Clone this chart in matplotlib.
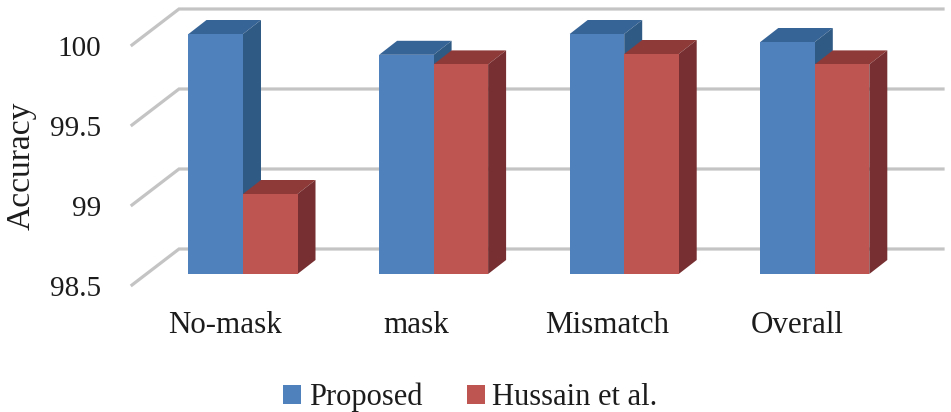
#!/usr/bin/env python3
import matplotlib
matplotlib.use("Agg")
import matplotlib.pyplot as plt
import numpy as np
from matplotlib.patches import Polygon

categories = ["No-mask", "mask", "Mismatch", "Overall"]
proposed = [100.0, 99.87, 100.0, 99.95]
hussain = [99.0, 99.81, 99.875, 99.81]
y_ticks = [98.5, 99.0, 99.5, 100.0]
y_tick_labels = ["98.5", "99", "99.5", "100"]

plt.rcParams["font.family"] = ["Liberation Serif", "DejaVu Serif"]

W, H = 951, 412
PITCH = 190.6          # px per category
UNIT = 160.0           # px per accuracy unit
X0, Y0 = 243.0, 274.0  # px of category 0 and of 98.5 on the bar plane

BLUE, BLUE_TOP, BLUE_SIDE = "#4f81bd", "#376497", "#2f5a84"
RED, RED_TOP, RED_SIDE = "#bf5550", "#8e3a38", "#772f31"
GRID = "#c4c4c4"
TEXT = "#1c1c1c"


def dx(px):
    return px / PITCH


def dy(px):
    return px / UNIT


def draw_bar_3d(ax, left, value, width, base, top_color, side_color, z):
    depth_x, depth_y = dx(18), dy(14)
    right = left + width
    ax.add_patch(Polygon([(left, value), (right, value), (right + depth_x, value + depth_y),
                          (left + depth_x, value + depth_y)], facecolor=top_color, edgecolor="none", zorder=z))
    ax.add_patch(Polygon([(right, base), (right + depth_x, base + depth_y), (right + depth_x, value + depth_y),
                          (right, value)], facecolor=side_color, edgecolor="none", zorder=z))


fig = plt.figure(figsize=(W / 100, H / 100), dpi=100)
ax = fig.add_axes([0, 0, 1, 1])
ax.set_xlim((0 - X0) / PITCH, (W - X0) / PITCH)
ax.set_ylim(98.5 - (H - Y0) / UNIT, 98.5 + Y0 / UNIT)
ax.axis("off")

# gridlines: left wall then back wall
for tick, label in zip(y_ticks, y_tick_labels):
    front_x, back_x, end_x = dx(132 - X0), dx(179 - X0), dx(943 - X0)
    front_y, back_y = tick - dy(11), tick + dy(25)
    ax.plot([front_x, back_x, end_x], [front_y, back_y, back_y], color=GRID, lw=2.3,
            solid_joinstyle="miter", zorder=1)
    ax.text(dx(101 - X0), tick - dy(22), label, ha="right", va="baseline", fontsize=21, color=TEXT)

x = np.arange(len(categories))
width = 54.5 / PITCH
bars1 = ax.bar(x - width, np.array(proposed) - 98.5, width, bottom=98.5, align="edge",
               color=BLUE, label="Proposed", zorder=3)
bars2 = ax.bar(x, np.array(hussain) - 98.5, width, bottom=98.5, align="edge",
               color=RED, label="Hussain et al.", zorder=5)

for i in x:
    draw_bar_3d(ax, i - width, proposed[i], width, 98.5, BLUE_TOP, BLUE_SIDE, 2)
    draw_bar_3d(ax, i, hussain[i], width, 98.5, RED_TOP, RED_SIDE, 4)
    ax.text(i - dx(17.5), 98.5 - dy(59), categories[i], ha="center", va="baseline", fontsize=22.3, color=TEXT)

ax.text(dx(21 - X0), 98.5 + dy(Y0 - 166), "Accuracy", rotation=90, ha="center", va="center",
        fontsize=24.2, color=TEXT)

ax.legend(handles=[bars1, bars2], loc="center", bbox_to_anchor=(470.5 / W, 1 - 397.5 / H), ncol=2,
          frameon=False, fontsize=22, handlelength=0.59, handleheight=0.59, handletextpad=0.25,
          columnspacing=1.44, labelcolor=TEXT)

fig.savefig("out.png", dpi=100)
